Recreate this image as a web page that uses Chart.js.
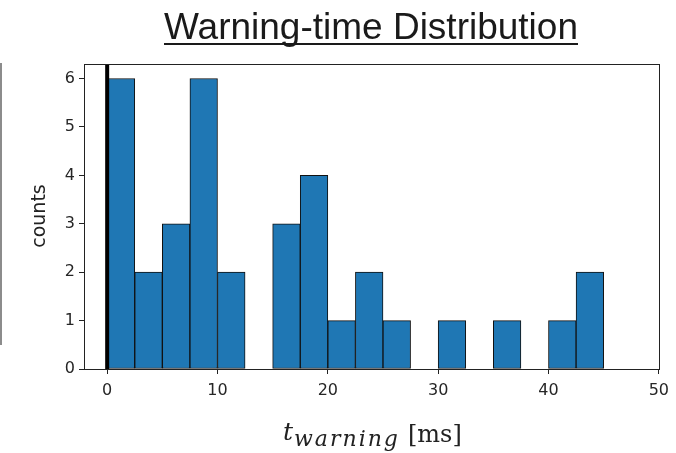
<!DOCTYPE html>
<html>
<head>
<meta charset="utf-8">
<script src="https://cdn.jsdelivr.net/npm/chart.js@4"></script>
<style>html,body{margin:0;padding:0;background:#fff;}canvas{display:block;}</style>
</head>
<body>
<canvas id="c" width="676" height="453"></canvas>
<script>
const titleText = "Warning-time Distribution";
const yLabel = "counts";
const binStarts = [0, 2.5, 5, 7.5, 10, 12.5, 15, 17.5, 20, 22.5, 25, 27.5, 30, 32.5, 35, 37.5, 40, 42.5];
const binWidth = 2.5;
const counts = [6, 2, 3, 6, 2, 0, 3, 4, 1, 2, 1, 0, 1, 0, 1, 0, 1, 2];
const markerX = 0;

const points = binStarts.map((s, i) => ({ x: s + binWidth / 2, y: counts[i] }));
const isZero = c => !c.raw || c.raw.y === 0;

const decor = {
  id: 'decor',
  afterDatasetsDraw(chart) {
    const { ctx, chartArea: a, scales } = chart;
    ctx.save();
    const px = scales.x.getPixelForValue(markerX);
    ctx.strokeStyle = '#000';
    ctx.lineWidth = 4;
    ctx.beginPath();
    ctx.moveTo(px, a.top);
    ctx.lineTo(px, a.bottom);
    ctx.stroke();
    ctx.strokeStyle = '#222';
    ctx.lineWidth = 1;
    ctx.strokeRect(Math.round(a.left) + 0.5, Math.round(a.top) + 0.5, Math.round(a.right - a.left), Math.round(a.bottom - a.top));
    ctx.restore();
  },
  afterDraw(chart) {
    const { ctx } = chart;
    ctx.save();
    // left artifact line (edge of neighbouring panel)
    ctx.strokeStyle = '#666';
    ctx.lineWidth = 1.5;
    ctx.beginPath();
    ctx.moveTo(1, 63);
    ctx.lineTo(1, 345);
    ctx.stroke();
    // title
    ctx.fillStyle = '#1a1a1a';
    ctx.font = '37px "Liberation Sans", Arial, sans-serif';
    ctx.textAlign = 'center';
    ctx.textBaseline = 'alphabetic';
    const tx = 371, ty = 39;
    ctx.fillText(titleText, tx, ty);
    const w = ctx.measureText(titleText).width;
    ctx.fillRect(tx - w / 2, ty + 4, w, 2);
    // y label
    ctx.save();
    ctx.translate(40, 216);
    ctx.rotate(-Math.PI / 2);
    ctx.font = '19px "DejaVu Sans", sans-serif';
    ctx.textAlign = 'center';
    ctx.textBaseline = 'middle';
    ctx.fillStyle = '#222';
    ctx.fillText(yLabel, 0, 0);
    ctx.restore();
    // x label: t_warning [ms]
    ctx.textAlign = 'left';
    ctx.textBaseline = 'alphabetic';
    ctx.fillStyle = '#222';
    ctx.font = 'italic 25px "DejaVu Serif", serif';
    ctx.fillText('t', 283, 440);
    ctx.font = 'italic 22px "DejaVu Serif", serif';
    ctx.letterSpacing = '2px';
    ctx.fillText('warning', 294, 446);
    ctx.letterSpacing = '0px';
    ctx.font = '24px "DejaVu Serif", serif';
    ctx.fillText('[ms]', 408, 442);
    ctx.restore();
  }
};

new Chart(document.getElementById('c'), {
  type: 'bar',
  data: {
    datasets: [{
      data: points,
      backgroundColor: c => (isZero(c) ? 'rgba(0,0,0,0)' : '#1f77b4'),
      borderColor: '#111',
      borderWidth: c => (isZero(c) ? 0 : 1),
      borderSkipped: false,
      barPercentage: 1,
      categoryPercentage: 1
    }]
  },
  options: {
    responsive: false,
    animation: false,
    events: [],
    layout: { padding: { left: 0, right: 16, top: 64, bottom: 0 } },
    plugins: { legend: { display: false }, tooltip: { enabled: false }, title: { display: false } },
    scales: {
      x: {
        type: 'linear',
        min: -2.1,
        max: 50,
        offset: false,
        ticks: { stepSize: 10, includeBounds: false, color: '#262626', font: { size: 16, family: '"DejaVu Sans", sans-serif' }, padding: 7, maxRotation: 0 },
        grid: { offset: false, drawOnChartArea: false, drawTicks: true, tickLength: 5, color: '#222' },
        border: { display: false },
        afterFit(s) { s.height = 84; }
      },
      y: {
        min: 0,
        max: 6.3,
        ticks: { stepSize: 1, includeBounds: false, color: '#262626', font: { size: 16, family: '"DejaVu Sans", sans-serif' }, padding: 4 },
        grid: { offset: false, drawOnChartArea: false, drawTicks: true, tickLength: 5, color: '#222' },
        border: { display: false },
        afterFit(s) { s.width = 84; }
      }
    }
  },
  plugins: [decor]
});
</script>
</body>
</html>
